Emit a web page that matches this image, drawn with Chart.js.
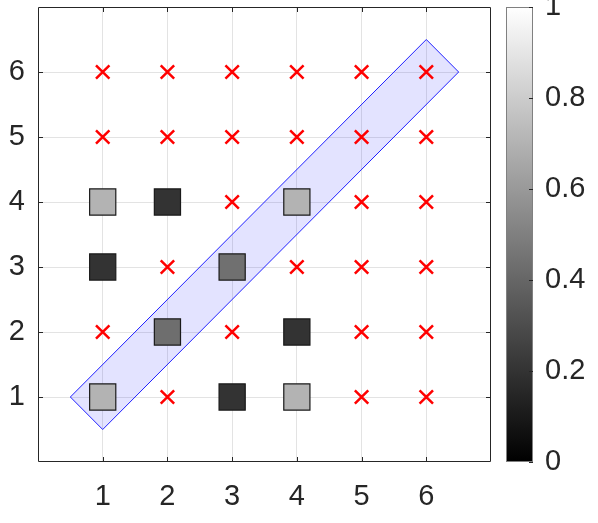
<!DOCTYPE html>
<html>
<head>
<meta charset="utf-8">
<script src="https://cdn.jsdelivr.net/npm/chart.js@4.4.1/dist/chart.umd.min.js"></script>
<style>
  html, body { margin: 0; padding: 0; background: #fff; }
  #wrap { width: 598px; height: 523px; }
</style>
</head>
<body>
<div id="wrap"><canvas id="chart" width="598" height="523"></canvas></div>
<script>
// tick labels
const axisTicks = [1, 2, 3, 4, 5, 6];
const cbTicks = [0, 0.2, 0.4, 0.6, 0.8, 1];

// grey squares (value -> grey colormap)
const sqX = [1, 2, 1, 3, 4, 2, 4, 1, 3, 4];
const sqY = [4, 4, 3, 3, 4, 2, 2, 1, 1, 1];
const sqVal = [0.7, 0.2, 0.2, 0.44, 0.7, 0.43, 0.2, 0.7, 0.2, 0.7];

// red crosses
const crossX = [1, 2, 3, 4, 5, 6, 1, 2, 3, 4, 5, 6, 3, 5, 6, 2, 4, 5, 6, 1, 3, 5, 6, 2, 5, 6];
const crossY = [6, 6, 6, 6, 6, 6, 5, 5, 5, 5, 5, 5, 4, 4, 4, 3, 3, 3, 3, 2, 2, 2, 2, 1, 1, 1];

// diagonal band polygon
const bandX = [0.5, 1, 6.5, 6, 0.5];
const bandY = [1, 0.5, 6, 6.5, 1];

const txtColor = '#262626';
const fontFamily = "'Liberation Sans', Arial, sans-serif";
const axFont = { family: fontFamily, size: 29 };

function grey(v) {
    const c = Math.round(v * 255);
    return 'rgb(' + c + ',' + c + ',' + c + ')';
}

function zip(xs, ys) {
    return xs.map((x, i) => ({ x: x, y: ys[i] }));
}

// inside tick marks, box, y labels and colorbar
const extrasPlugin = {
    id: 'extras',
    afterDraw(chart) {
        const ctx = chart.ctx;
        const a = chart.chartArea;
        const xs = chart.scales.x, ys = chart.scales.y, cb = chart.scales.cb;

        ctx.save();
        ctx.strokeStyle = txtColor;
        ctx.lineWidth = 1;
        ctx.beginPath();
        ctx.rect(a.left + 0.5, a.top + 0.5, a.right - a.left - 1, a.bottom - a.top - 1);
        axisTicks.forEach(v => {
            const px = Math.round(xs.getPixelForValue(v)) + 0.5;
            ctx.moveTo(px, a.bottom); ctx.lineTo(px, a.bottom - 5);
            ctx.moveTo(px, a.top); ctx.lineTo(px, a.top + 5);
            const py = Math.round(ys.getPixelForValue(v)) + 0.5;
            ctx.moveTo(a.left, py); ctx.lineTo(a.left + 5, py);
            ctx.moveTo(a.right, py); ctx.lineTo(a.right - 5, py);
        });
        ctx.stroke();

        ctx.fillStyle = txtColor;
        ctx.font = axFont.size + 'px ' + fontFamily;
        ctx.textBaseline = 'middle';
        ctx.textAlign = 'right';
        axisTicks.forEach(v => {
            ctx.fillText(String(v), a.left - 13, ys.getPixelForValue(v));
        });

        // colorbar
        const cbL = a.right + 15, cbR = a.right + 42;
        const top = cb.getPixelForValue(1), bot = cb.getPixelForValue(0);
        const g = ctx.createLinearGradient(0, bot, 0, top);
        g.addColorStop(0, '#000');
        g.addColorStop(1, '#fff');
        ctx.fillStyle = g;
        ctx.fillRect(cbL, top, cbR - cbL, bot - top);
        ctx.strokeStyle = '#808080';
        ctx.strokeRect(cbL + 0.5, top + 0.5, cbR - cbL - 1, bot - top - 1);
        ctx.strokeStyle = txtColor;
        ctx.beginPath();
        cbTicks.forEach(v => {
            const py = Math.round(cb.getPixelForValue(v)) + 0.5;
            ctx.moveTo(cbR, py); ctx.lineTo(cbR - 4, py);
        });
        ctx.stroke();

        ctx.fillStyle = txtColor;
        ctx.textAlign = 'left';
        cbTicks.forEach(v => {
            ctx.fillText(String(v), cbR + 12, cb.getPixelForValue(v));
        });
        ctx.restore();
    }
};

function fixTicks(list) {
    return function (scale) {
        scale.ticks = list.map(v => ({ value: v }));
    };
}

const chart = new Chart(document.getElementById('chart'), {
    type: 'scatter',
    data: {
        datasets: [
            {
                label: 'crosses',
                data: zip(crossX, crossY),
                pointStyle: 'crossRot',
                pointRadius: 9.5,
                borderColor: '#ff0000',
                borderWidth: 2.5,
                order: 0
            },
            {
                label: 'squares',
                data: zip(sqX, sqY),
                pointStyle: 'rect',
                pointRadius: 18.5,
                backgroundColor: sqVal.map(grey),
                borderColor: '#1a1a1a',
                borderWidth: 1.2,
                order: 1
            },
            {
                label: 'band',
                type: 'line',
                data: zip(bandX, bandY),
                showLine: true,
                pointRadius: 0,
                borderColor: '#2020ff',
                borderWidth: 1,
                backgroundColor: 'rgba(40,40,255,0.13)',
                fill: 'shape',
                tension: 0,
                order: 2
            }
        ]
    },
    options: {
        responsive: false,
        animation: false,
        devicePixelRatio: 1,
        layout: { autoPadding: false, padding: { top: 7, left: 0, right: 0, bottom: 0 } },
        plugins: {
            legend: { display: false },
            tooltip: { enabled: false }
        },
        scales: {
            x: {
                type: 'linear',
                min: 0, max: 7,
                border: { display: false },
                grid: { color: '#e3e3e3', drawTicks: false },
                ticks: { font: axFont, color: txtColor, padding: 18, maxRotation: 0 },
                afterBuildTicks: fixTicks(axisTicks),
                afterFit(s) { s.height = 61; s.paddingLeft = 0; s.paddingRight = 0; }
            },
            y: {
                type: 'linear',
                min: 0, max: 7,
                border: { display: false },
                grid: { color: '#e3e3e3', drawTicks: false },
                ticks: { display: false, padding: 0 },
                afterBuildTicks: fixTicks(axisTicks),
                afterFit(s) { s.width = 38; s.paddingTop = 0; s.paddingBottom = 0; }
            },
            cb: {
                type: 'linear',
                position: 'right',
                min: 0, max: 1,
                border: { display: false },
                grid: { display: false, drawTicks: false, drawOnChartArea: false },
                ticks: { display: false, padding: 0 },
                afterBuildTicks: fixTicks(cbTicks),
                afterFit(s) { s.width = 107; s.paddingTop = 0; s.paddingBottom = 0; }
            }
        }
    },
    plugins: [extrasPlugin]
});
</script>
</body>
</html>
